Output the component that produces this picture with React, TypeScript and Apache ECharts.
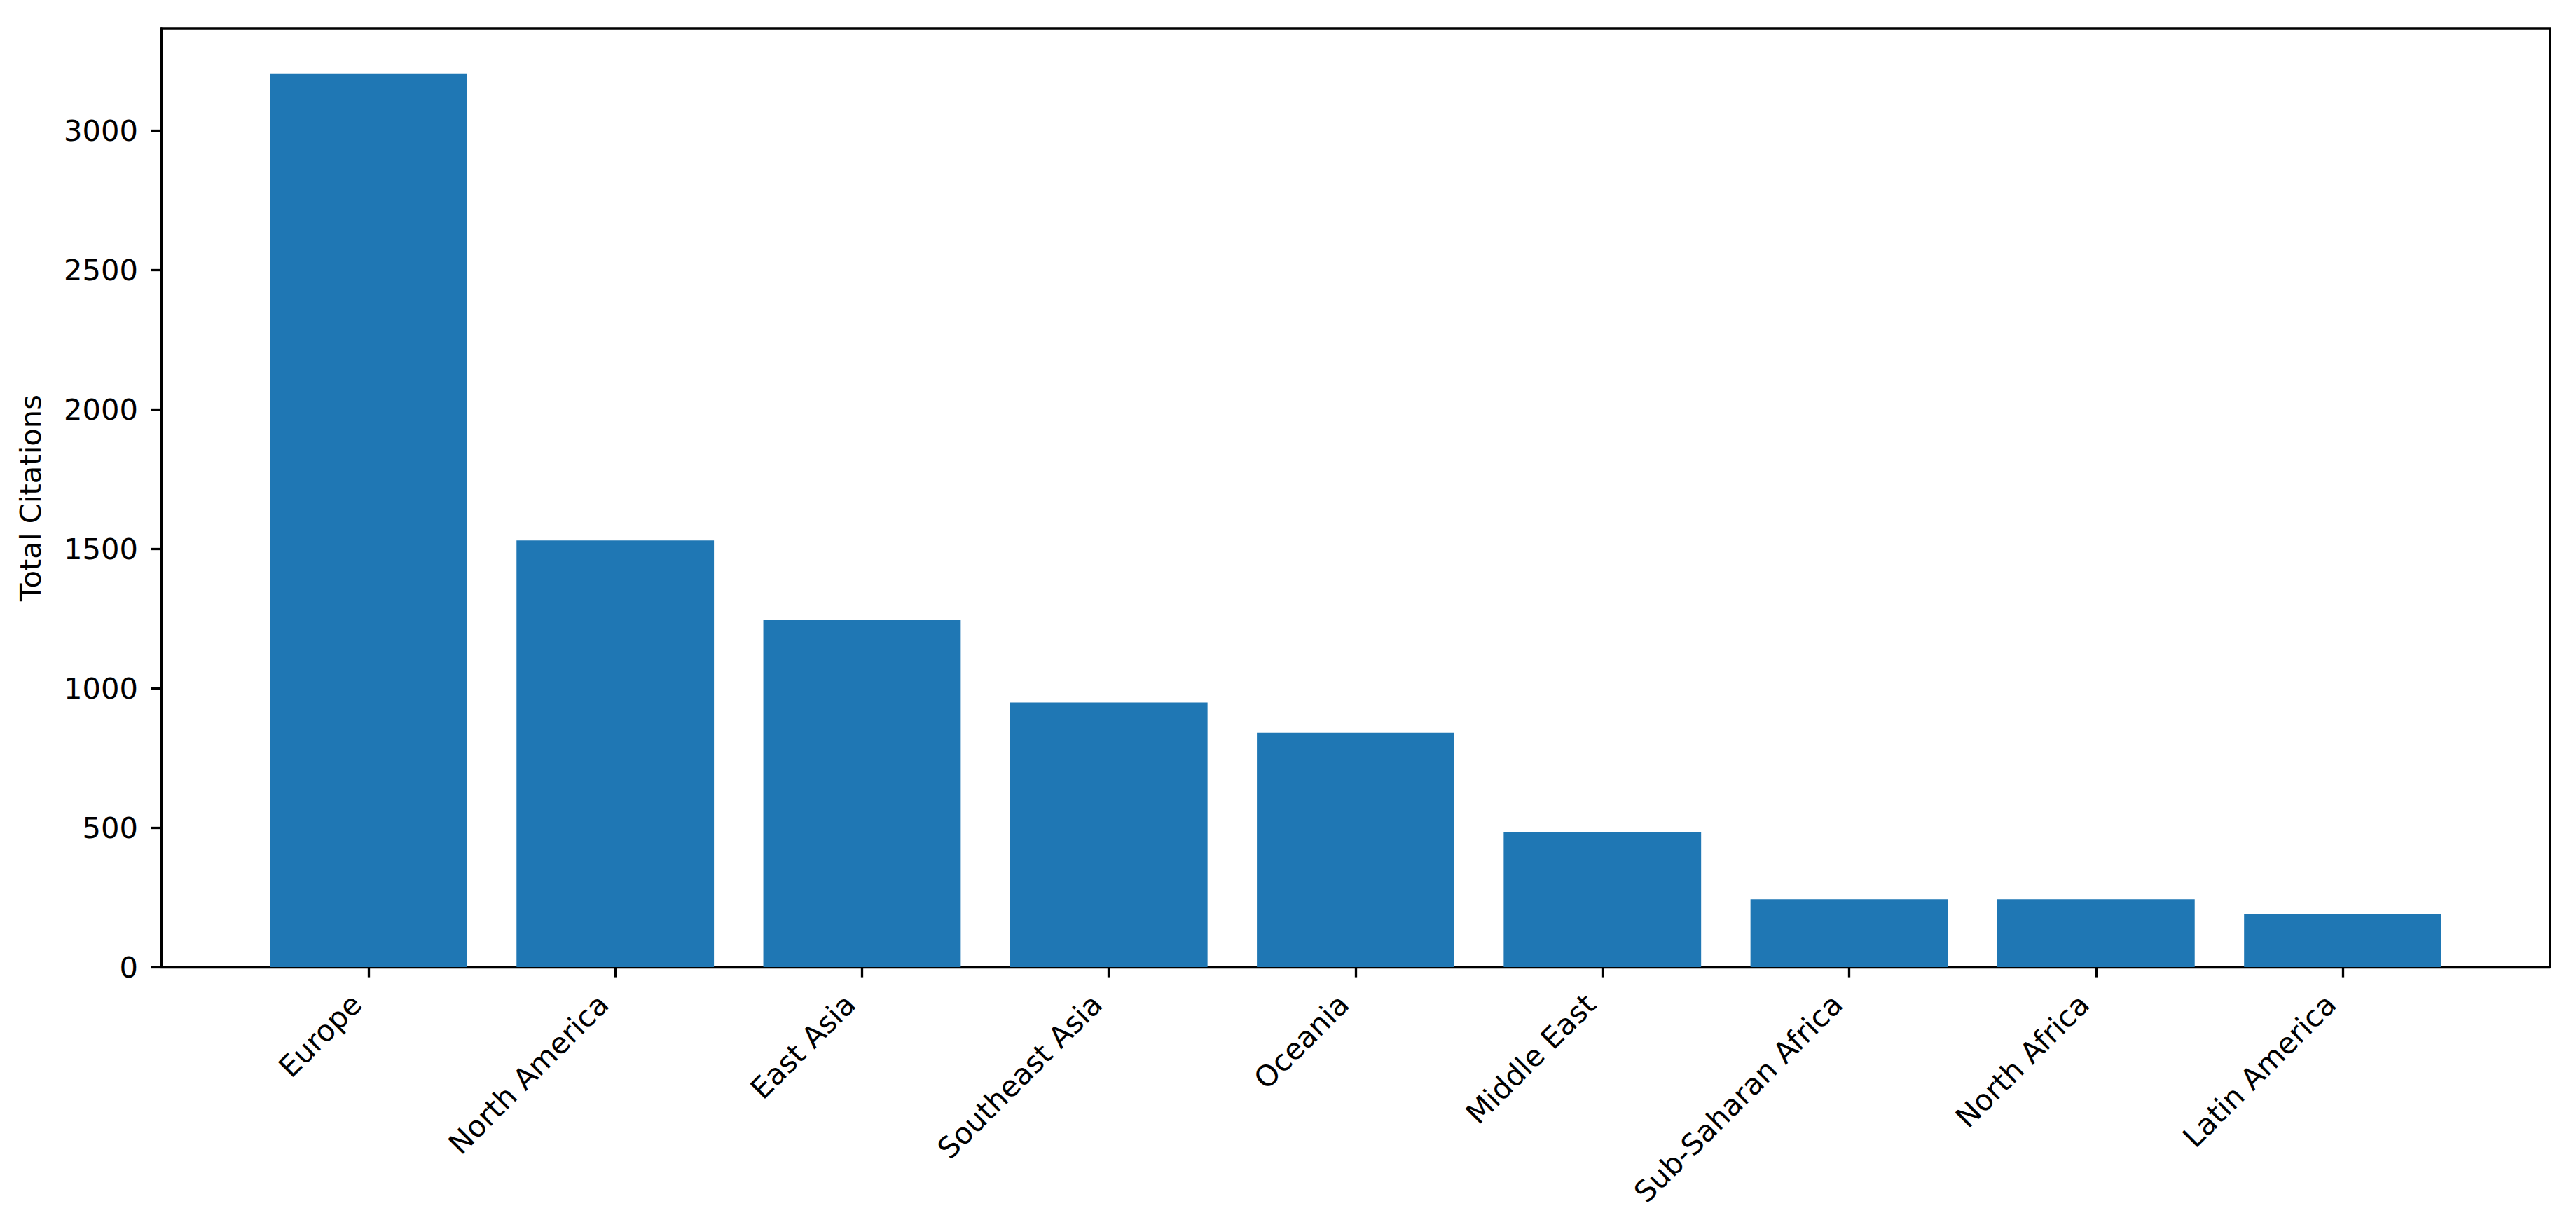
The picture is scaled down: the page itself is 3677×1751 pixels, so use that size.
import React, { useEffect, useRef } from "react";
import * as echarts from "echarts";

const categories = [
  "Europe",
  "North America",
  "East Asia",
  "Southeast Asia",
  "Oceania",
  "Middle East",
  "Sub-Saharan Africa",
  "North Africa",
  "Latin America",
];
const citations = [3205, 1530, 1244, 949, 840, 484, 243, 243, 189];
const yTicks = [0, 500, 1000, 1500, 2000, 2500, 3000];
const yLabel = "Total Citations";

export default function App() {
  const ref = useRef<HTMLDivElement>(null);
  useEffect(() => {
    if (!ref.current) return;
    const chart = echarts.init(ref.current, null, { renderer: "svg" });
    const font = "DejaVu Sans";
    const fs = 41.7;
    const xIdx = categories.map((_, i) => i);
    const maxV = Math.max(...citations) * 1.05;
    chart.setOption({
      animation: false,
      backgroundColor: "#ffffff",
      grid: {
        left: 230,
        right: 37,
        top: 41,
        bottom: 371,
        show: true,
        borderColor: "#000",
        borderWidth: 3.3,
        backgroundColor: "transparent",
      },
      xAxis: {
        type: "value",
        min: -0.84,
        max: categories.length - 1 + 0.84,
        splitLine: { show: false },
        axisLine: { show: true, onZero: false, lineStyle: { color: "#000", width: 3.3 } },
        axisTick: {
          show: true,
          customValues: xIdx,
          length: 14.6,
          lineStyle: { color: "#000", width: 3.3 },
        },
        axisLabel: {
          customValues: xIdx,
          rotate: 45,
          margin: 29,
          padding: [0, 24, 0, 0],
          fontFamily: font,
          fontSize: fs,
          color: "#000",
          formatter: (v: number) => categories[Math.round(v)] ?? "",
        },
      },
      yAxis: {
        type: "value",
        min: 0,
        max: maxV,
        name: yLabel,
        nameLocation: "middle",
        nameGap: 166,
        nameTextStyle: { fontFamily: font, fontSize: fs, color: "#000" },
        splitLine: { show: false },
        axisLine: { show: true, onZero: false, lineStyle: { color: "#000", width: 3.3 } },
        axisTick: {
          show: true,
          customValues: yTicks,
          length: 14.6,
          lineStyle: { color: "#000", width: 3.3 },
        },
        axisLabel: {
          customValues: yTicks,
          margin: 33,
          fontFamily: font,
          fontSize: fs,
          color: "#000",
          formatter: (v: number) => String(v),
        },
      },
      series: [
        {
          type: "bar",
          data: citations.map((v, i) => [i, v]),
          barWidth: "80%",
          itemStyle: { color: "#1f77b4" },
        },
      ],
    });
    return () => chart.dispose();
  }, []);
  return (
    <div
      ref={ref}
      style={{ position: "fixed", left: 0, top: 0, width: 3677, height: 1751, background: "#fff" }}
    />
  );
}
